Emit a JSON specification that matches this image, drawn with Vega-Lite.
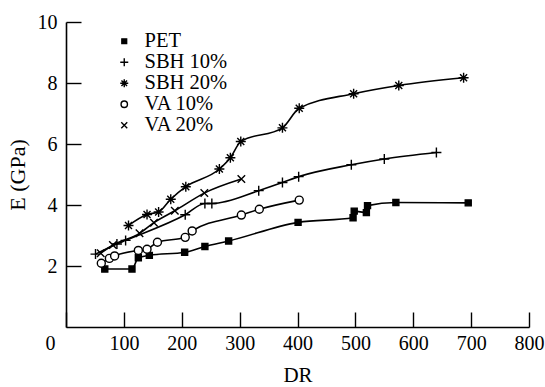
{
  "$schema": "https://vega.github.io/schema/vega-lite/v6.json",
  "width": 463,
  "height": 305,
  "autosize": {"type": "none"},
  "padding": {"left": 66, "top": 22, "right": 16, "bottom": 60},
  "background": "white",
  "config": {
    "view": {"stroke": null},
    "font": "Liberation Serif",
    "axis": {"labelFont": "Liberation Serif", "titleFont": "Liberation Serif"},
    "legend": {"labelFont": "Liberation Serif"}
  },
  "data": {
    "values": [
      {"series": "PET", "DR": 67, "E": 1.90},
      {"series": "PET", "DR": 114, "E": 1.90},
      {"series": "PET", "DR": 125, "E": 2.27},
      {"series": "PET", "DR": 144, "E": 2.35},
      {"series": "PET", "DR": 205, "E": 2.45},
      {"series": "PET", "DR": 240, "E": 2.64},
      {"series": "PET", "DR": 281, "E": 2.82},
      {"series": "PET", "DR": 401, "E": 3.43},
      {"series": "PET", "DR": 496, "E": 3.58},
      {"series": "PET", "DR": 498, "E": 3.80},
      {"series": "PET", "DR": 519, "E": 3.75},
      {"series": "PET", "DR": 521, "E": 3.98},
      {"series": "PET", "DR": 570, "E": 4.08},
      {"series": "PET", "DR": 695, "E": 4.07},
      {"series": "SBH 10%", "DR": 51, "E": 2.39},
      {"series": "SBH 10%", "DR": 88, "E": 2.72},
      {"series": "SBH 10%", "DR": 103, "E": 2.84},
      {"series": "SBH 10%", "DR": 206, "E": 3.68},
      {"series": "SBH 10%", "DR": 240, "E": 4.05},
      {"series": "SBH 10%", "DR": 252, "E": 4.05},
      {"series": "SBH 10%", "DR": 333, "E": 4.47},
      {"series": "SBH 10%", "DR": 374, "E": 4.74},
      {"series": "SBH 10%", "DR": 402, "E": 4.93},
      {"series": "SBH 10%", "DR": 493, "E": 5.32},
      {"series": "SBH 10%", "DR": 550, "E": 5.51},
      {"series": "SBH 10%", "DR": 640, "E": 5.72},
      {"series": "SBH 20%", "DR": 108, "E": 3.33},
      {"series": "SBH 20%", "DR": 140, "E": 3.69},
      {"series": "SBH 20%", "DR": 160, "E": 3.77},
      {"series": "SBH 20%", "DR": 181, "E": 4.19},
      {"series": "SBH 20%", "DR": 207, "E": 4.60},
      {"series": "SBH 20%", "DR": 265, "E": 5.18},
      {"series": "SBH 20%", "DR": 284, "E": 5.55},
      {"series": "SBH 20%", "DR": 302, "E": 6.08},
      {"series": "SBH 20%", "DR": 374, "E": 6.53},
      {"series": "SBH 20%", "DR": 403, "E": 7.17},
      {"series": "SBH 20%", "DR": 497, "E": 7.65},
      {"series": "SBH 20%", "DR": 575, "E": 7.92},
      {"series": "SBH 20%", "DR": 687, "E": 8.17},
      {"series": "VA 10%", "DR": 61, "E": 2.09},
      {"series": "VA 10%", "DR": 75, "E": 2.25},
      {"series": "VA 10%", "DR": 84, "E": 2.33},
      {"series": "VA 10%", "DR": 125, "E": 2.51},
      {"series": "VA 10%", "DR": 140, "E": 2.55},
      {"series": "VA 10%", "DR": 158, "E": 2.78},
      {"series": "VA 10%", "DR": 206, "E": 2.94},
      {"series": "VA 10%", "DR": 218, "E": 3.15},
      {"series": "VA 10%", "DR": 303, "E": 3.67},
      {"series": "VA 10%", "DR": 334, "E": 3.86},
      {"series": "VA 10%", "DR": 403, "E": 4.16},
      {"series": "VA 20%", "DR": 60, "E": 2.42},
      {"series": "VA 20%", "DR": 81, "E": 2.69},
      {"series": "VA 20%", "DR": 127, "E": 3.07},
      {"series": "VA 20%", "DR": 152, "E": 3.42},
      {"series": "VA 20%", "DR": 188, "E": 3.81},
      {"series": "VA 20%", "DR": 239, "E": 4.39},
      {"series": "VA 20%", "DR": 303, "E": 4.85}
    ]
  },
  "encoding": {
    "x": {
      "field": "DR", "type": "quantitative",
      "scale": {"domain": [0, 800], "nice": false, "zero": false},
      "axis": {
        "title": "DR", "values": [0, 100, 200, 300, 400, 500, 600, 700, 800],
        "grid": false, "domainColor": "black", "domainWidth": 1.6,
        "tickColor": "black", "tickWidth": 1.4, "tickSize": -15,
        "labelFontSize": 20, "labelColor": "black", "labelPadding": 21,
        "labelFlush": false, "labelOverlap": false,
        "labelOffset": {"condition": {"test": "datum.value === 0", "value": -16}, "value": 0},
        "titleFontSize": 21, "titleFontWeight": "normal", "titleColor": "black", "titlePadding": 11
      }
    },
    "y": {
      "field": "E", "type": "quantitative",
      "scale": {"domain": [0, 10], "nice": false, "zero": false},
      "axis": {
        "title": "E (GPa)", "values": [2, 4, 6, 8, 10],
        "grid": false, "domainColor": "black", "domainWidth": 1.6,
        "tickColor": "black", "tickWidth": 1.4, "tickSize": -15,
        "labelFontSize": 20, "labelColor": "black", "labelPadding": 24,
        "labelFlush": false, "labelOverlap": false,
        "titleFontSize": 22, "titleFontWeight": "normal", "titleColor": "black", "titlePadding": 8
      }
    }
  },
  "layer": [
    {
      "mark": {"type": "line", "interpolate": "monotone", "color": "black", "strokeWidth": 1.6},
      "encoding": {"detail": {"field": "series"}}
    },
    {
      "mark": {"type": "point", "strokeWidth": 1.4, "size": 100, "opacity": 1},
      "encoding": {
        "shape": {
          "field": "series", "type": "nominal",
          "scale": {
            "domain": ["PET", "SBH 10%", "SBH 20%", "VA 10%", "VA 20%"],
            "range": [
              "M-0.6,-0.6H0.6V0.6H-0.6Z",
              "M-1,0H1M0,-1V1",
              "M-1,0H1M0,-1V1M-0.7,-0.7L0.7,0.7M-0.7,0.7L0.7,-0.7",
              "M0.8,0A0.8,0.8,0,1,1,-0.8,0A0.8,0.8,0,1,1,0.8,0Z",
              "M-0.75,-0.75L0.75,0.75M-0.75,0.75L0.75,-0.75"
            ]
          },
          "legend": {
            "title": null, "orient": "none", "legendX": 48, "legendY": 9, "padding": 0,
            "labelFontSize": 20.5, "labelColor": "black", "labelOffset": 10,
            "symbolSize": 64, "symbolStrokeWidth": 1.4, "rowPadding": -2
          }
        },
        "fill": {
          "field": "series", "type": "nominal",
          "scale": {
            "domain": ["PET", "SBH 10%", "SBH 20%", "VA 10%", "VA 20%"],
            "range": ["black", "black", "black", "white", "black"]
          },
          "legend": {
            "title": null, "orient": "none", "legendX": 48, "legendY": 9, "padding": 0,
            "labelFontSize": 20.5, "labelColor": "black", "labelOffset": 10,
            "symbolSize": 64, "symbolStrokeWidth": 1.4, "rowPadding": -2
          }
        },
        "stroke": {
          "field": "series", "type": "nominal",
          "scale": {
            "domain": ["PET", "SBH 10%", "SBH 20%", "VA 10%", "VA 20%"],
            "range": ["black", "black", "black", "black", "black"]
          },
          "legend": {
            "title": null, "orient": "none", "legendX": 48, "legendY": 9, "padding": 0,
            "labelFontSize": 20.5, "labelColor": "black", "labelOffset": 10,
            "symbolSize": 64, "symbolStrokeWidth": 1.4, "rowPadding": -2
          }
        }
      }
    }
  ]
}
